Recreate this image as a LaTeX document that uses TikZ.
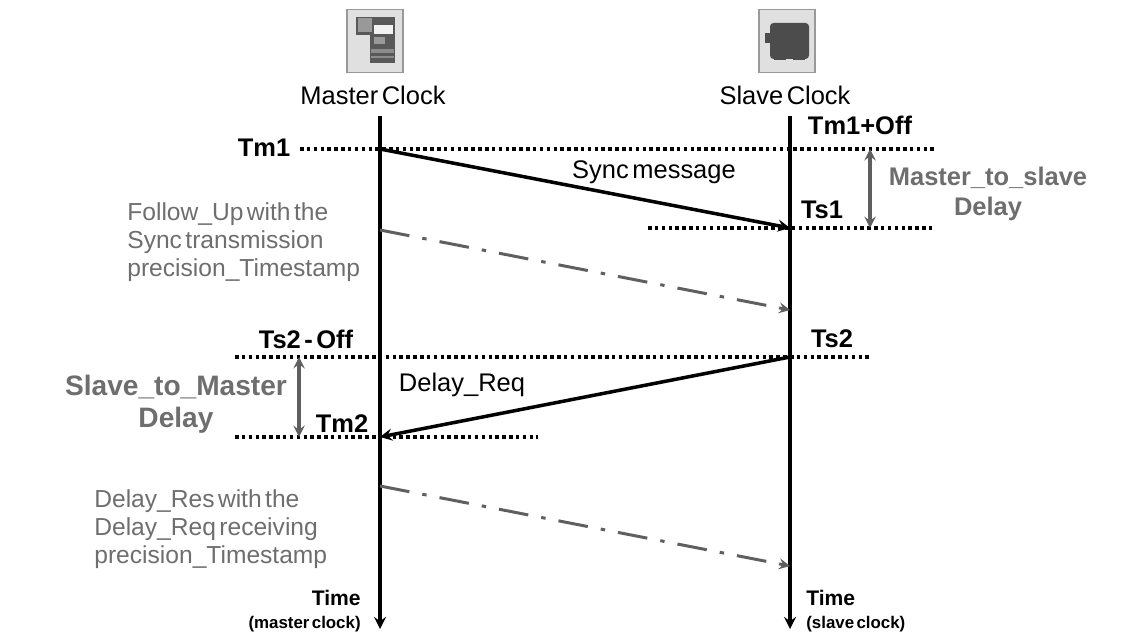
\documentclass[tikz,border=0pt]{standalone}
\usepackage{fontspec}
\setmainfont[WordSpace=0.5]{Liberation Sans}
\definecolor{txtgray}{RGB}{110,110,110}
\definecolor{arrowgray}{RGB}{95,95,95}
\begin{document}
\begin{tikzpicture}[
    x=0.02cm, y=-0.02cm,
    label/.style={font=\fontsize{14.5}{17}\selectfont, align=center, inner sep=0pt},
    bold/.style={label, font=\fontsize{14.5}{17}\selectfont\bfseries},
    graybold/.style={bold, text=txtgray},
    note/.style={label, align=left, text=txtgray, font=\fontsize{14}{16}\selectfont},
    timeline/.style={->, >=stealth, line width=2pt},
    msg/.style={->, >=stealth, line width=2pt},
    follow/.style={->, >=stealth, line width=1.7pt, draw=arrowgray, dash pattern=on 17pt off 7.5pt on 2.5pt off 7.5pt},
    levelline/.style={line width=2pt, dash pattern=on 2pt off 1.9pt},
    delay/.style={<->, >=stealth, line width=1.8pt, draw=arrowgray},
    iconbox/.style={draw=black!40, fill=black!12, line width=0.8pt, inner sep=0pt, minimum width=1.12cm, minimum height=1.26cm}
]
\useasboundingbox (0,0) rectangle (1140,634);

% Clock icons
\node[iconbox] (mastericon) at (375,41) {};
\node[iconbox] (slaveicon) at (787,41) {};
\fill[black!65] (356,17) rectangle (395,35);
\fill[black!65] (370,35) rectangle (395,63);
\fill[black!40] (358,18) rectangle (372,32);
\fill[black!5] (374,25) rectangle (393,34);
\fill[black!40] (374,37) rectangle (385,44);
\fill[black!45] (371,49) rectangle (394,53);
\fill[black!45] (371,56) rectangle (394,58);
\fill[black!70, rounded corners=2pt] (770,23) rectangle (809,59);
\fill[black!70] (765,33) rectangle (770,43);
\fill[black!70] (774,57) rectangle (786,60);
\fill[black!70] (793,57) rectangle (805,60);

% Headers
\node[label] (master) at (373,95) {Master Clock};
\node[label] (slave) at (785,95) {Slave Clock};

% Anchors on the time lines
\coordinate (m0) at (380,116);
\coordinate (m1) at (380,149);
\coordinate (mf) at (380,230);
\coordinate (m3) at (380,437);
\coordinate (mr) at (380,486);
\coordinate (mend) at (380,629);
\coordinate (s0) at (790,116);
\coordinate (s1) at (790,228);
\coordinate (sf) at (790,310);
\coordinate (s2) at (790,357);
\coordinate (sr) at (790,566);
\coordinate (send) at (790,629);

% Level lines
\coordinate (l1a) at (300,149);
\coordinate (l1b) at (935,149);
\coordinate (l2a) at (648,228);
\coordinate (l2b) at (935,228);
\coordinate (l3a) at (235,357);
\coordinate (l3b) at (872,357);
\coordinate (l4a) at (235,437);
\coordinate (l4b) at (538,437);
\draw[levelline] (l1a) -- (l1b);
\draw[levelline] (l2a) -- (l2b);
\draw[levelline] (l3a) -- (l3b);
\draw[levelline] (l4a) -- (l4b);

% Time lines
\draw[timeline] (m0) -- (mend);
\draw[timeline] (s0) -- (send);

% Messages
\draw[msg] (m1) -- (s1);
\draw[msg] (s2) -- (m3);
\draw[follow] (mf) -- (sf);
\draw[follow] (mr) -- (sr);

% Delays
\coordinate (d1a) at (870,149);
\coordinate (d1b) at (870,228);
\coordinate (d2a) at (299,357);
\coordinate (d2b) at (299,437);
\draw[delay] (d1a) -- (d1b);
\draw[delay] (d2a) -- (d2b);

% Labels
\node[bold] (tm1) at (264,148) {Tm1};
\node[bold] (tm1off) at (860,125) {Tm1+Off};
\node[bold] (ts1) at (822,210) {Ts1};
\node[bold] (ts2off) at (306,339) {Ts2 - Off};
\node[bold] (ts2) at (832,339) {Ts2};
\node[bold] (tm2) at (342,424) {Tm2};
\node[label] (sync) at (654,172) {Sync message};
\node[label] (delayreq) at (462,385) {Delay\_Req};
\node[graybold] (m2s) at (988,194) {Master\_to\_slave\\Delay};
\node[graybold, font=\fontsize{16}{18}\selectfont\bfseries] (s2m) at (176,404) {Slave\_to\_Master\\Delay};
\node[note, anchor=west] (fup) at (127,242) {Follow\_Up with the\\Sync transmission\\precision\_Timestamp};
\node[note, anchor=west] (dres) at (94,529) {Delay\_Res with the\\Delay\_Req receiving\\precision\_Timestamp};
\node[bold, align=right, anchor=east, font=\fontsize{9.6}{13}\selectfont\bfseries] (tmaster) at (361,611) {{\fontsize{12}{13}\selectfont Time}\\(master clock)};
\node[bold, align=left, anchor=west, font=\fontsize{9.6}{13}\selectfont\bfseries] (tslave) at (806,611) {{\fontsize{12}{13}\selectfont Time}\\(slave clock)};

\end{tikzpicture}
\end{document}
